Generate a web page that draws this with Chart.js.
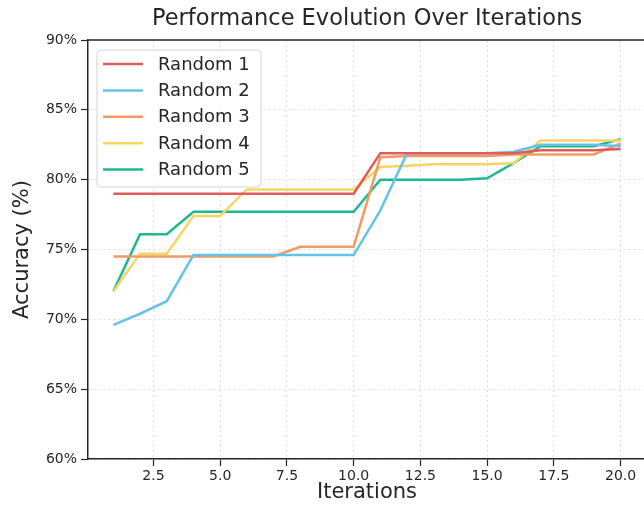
<!DOCTYPE html>
<html>
<head>
<meta charset="utf-8">
<script src="https://cdn.jsdelivr.net/npm/chart.js@4"></script>
<style>
  html, body { margin: 0; padding: 0; background: #fff; overflow: hidden; }
  #wrap { width: 660px; height: 508px; }
</style>
</head>
<body>
<div id="wrap"><canvas id="chart" width="660" height="508"></canvas></div>
<script>
// data
const iterations = [1, 2, 3, 4, 5, 6, 7, 8, 9, 10, 11, 12, 13, 14, 15, 16, 17, 18, 19, 20];
const random1 = [79.0, 79.0, 79.0, 79.0, 79.0, 79.0, 79.0, 79.0, 79.0, 79.0, 81.9, 81.9, 81.9, 81.9, 81.9, 81.9, 82.1, 82.1, 82.1, 82.2];
const random2 = [69.6, 70.4, 71.3, 74.6, 74.6, 74.6, 74.6, 74.6, 74.6, 74.6, 77.8, 81.9, 81.9, 81.9, 81.9, 82.0, 82.5, 82.5, 82.5, 82.4];
const random3 = [74.5, 74.5, 74.5, 74.5, 74.5, 74.5, 74.5, 75.2, 75.2, 75.2, 81.6, 81.7, 81.7, 81.7, 81.7, 81.8, 81.8, 81.8, 81.8, 82.6];
const random4 = [72.0, 74.7, 74.7, 77.4, 77.4, 79.3, 79.3, 79.3, 79.3, 79.3, 80.9, 81.0, 81.1, 81.1, 81.1, 81.2, 82.8, 82.8, 82.8, 82.8];
const random5 = [72.0, 76.1, 76.1, 77.7, 77.7, 77.7, 77.7, 77.7, 77.7, 77.7, 80.0, 80.0, 80.0, 80.0, 80.1, 81.2, 82.4, 82.4, 82.4, 82.9];
const seriesNames = ['Random 1', 'Random 2', 'Random 3', 'Random 4', 'Random 5'];
const xTicks = [2.5, 5.0, 7.5, 10.0, 12.5, 15.0, 17.5, 20.0];
const yTicks = [60, 65, 70, 75, 80, 85, 90];

const colors = ['#e25b5b', '#66c2e8', '#f39a63', '#f7d565', '#1db990'];
const inkColor = '#262626';
const gridColor = '#dcdcdc';
const font = 'DejaVu Sans';

const allSeries = [random1, random2, random3, random4, random5];

// box around the plot (top spine) + legend inside the plot
const framePlugin = {
  id: 'frame',
  beforeDatasetsDraw(chart) {
    const { ctx, chartArea: a } = chart;
    ctx.save();
    ctx.strokeStyle = inkColor;
    ctx.lineWidth = 1.5;
    ctx.beginPath();
    ctx.moveTo(a.left, a.top);
    ctx.lineTo(a.right, a.top);
    ctx.lineTo(a.right, a.bottom);
    ctx.stroke();
    ctx.restore();
  },
  afterDatasetsDraw(chart) {
    const { ctx } = chart;
    const x0 = 97, y0 = 50, w = 164, h = 137, r = 4;
    ctx.save();
    ctx.beginPath();
    ctx.roundRect(x0, y0, w, h, r);
    ctx.fillStyle = 'rgba(255,255,255,0.85)';
    ctx.fill();
    ctx.strokeStyle = '#d4d4d4';
    ctx.lineWidth = 1;
    ctx.stroke();
    ctx.font = '18px "' + font + '"';
    ctx.textBaseline = 'middle';
    ctx.fillStyle = inkColor;
    chart.data.datasets.forEach((ds, i) => {
      const y = 64 + i * 26.4;
      ctx.strokeStyle = ds.borderColor;
      ctx.lineWidth = 2.5;
      ctx.beginPath();
      ctx.moveTo(103, y);
      ctx.lineTo(143, y);
      ctx.stroke();
      ctx.fillText(ds.label, 158, y + 1);
    });
    ctx.restore();
  }
};

new Chart(document.getElementById('chart'), {
  type: 'line',
  data: {
    labels: iterations,
    datasets: allSeries.map((vals, i) => ({
      label: seriesNames[i],
      data: iterations.map((x, j) => ({ x: x, y: vals[j] })),
      borderColor: colors[i],
      backgroundColor: colors[i],
      borderWidth: 2.5,
      pointRadius: 0,
      tension: 0,
      fill: false
    }))
  },
  options: {
    responsive: false,
    animation: false,
    layout: { padding: { left: 0, right: 14, top: 0, bottom: 0 } },
    plugins: {
      legend: { display: false },
      tooltip: { enabled: false },
      title: {
        display: true,
        text: 'Performance Evolution Over Iterations',
        fullSize: false,
        color: inkColor,
        font: { family: font, size: 22.5, weight: 'normal', lineHeight: 1.2 },
        padding: { top: 6, bottom: 7 }
      }
    },
    scales: {
      x: {
        type: 'linear',
        min: 0.05,
        max: 20.95,
        afterFit(scale) { scale.height = 49; },
        afterBuildTicks(scale) { scale.ticks = xTicks.map(v => ({ value: v })); },
        ticks: {
          color: inkColor,
          font: { family: font, size: 14 },
          padding: 2,
          maxRotation: 0,
          callback: v => Number(v).toFixed(1)
        },
        grid: {
          color: gridColor,
          lineWidth: 1,
          tickLength: 7,
          tickColor: inkColor,
          tickWidth: 1.2,
          tickBorderDash: []
        },
        border: { display: true, color: inkColor, width: 1.5, dash: [2, 3] },
        title: {
          display: true,
          text: 'Iterations',
          color: inkColor,
          font: { family: font, size: 21, lineHeight: 1.2 },
          padding: { top: 0, bottom: 3 }
        }
      },
      y: {
        min: 60,
        max: 90,
        afterFit(scale) { scale.width = 88; },
        afterBuildTicks(scale) { scale.ticks = yTicks.map(v => ({ value: v })); },
        ticks: {
          color: inkColor,
          font: { family: font, size: 14 },
          padding: 4,
          callback: v => v + '%'
        },
        grid: {
          color: gridColor,
          lineWidth: 1,
          tickLength: 7,
          tickColor: inkColor,
          tickWidth: 1.2,
          tickBorderDash: []
        },
        border: { display: true, color: inkColor, width: 1.5, dash: [2, 3] },
        title: {
          display: true,
          text: 'Accuracy (%)',
          color: inkColor,
          font: { family: font, size: 21, lineHeight: 1.2 },
          padding: { top: 10, bottom: 0 }
        }
      }
    }
  },
  plugins: [framePlugin]
});
</script>
</body>
</html>
